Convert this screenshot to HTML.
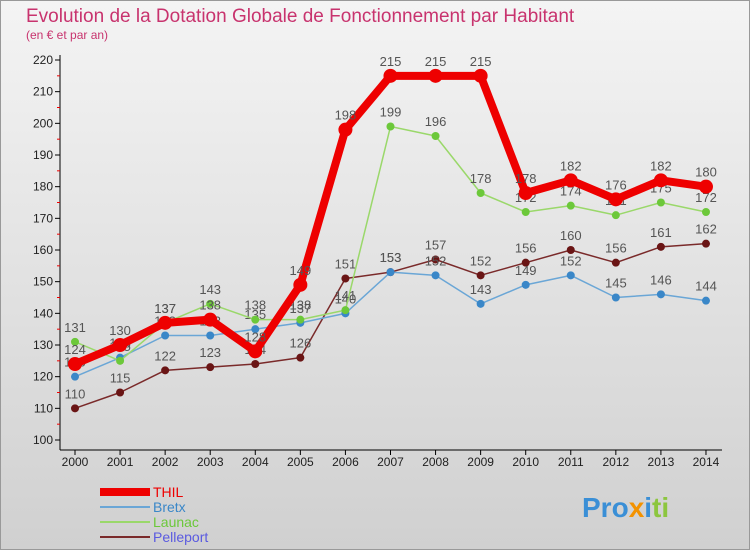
<!DOCTYPE html>
<html><head><meta charset="utf-8"><style>
body{margin:0;}
svg{display:block;font-family:"Liberation Sans",sans-serif;}
</style></head><body>
<svg id="c" width="750" height="550">
<defs><linearGradient id="bg" x1="0" y1="0" x2="0" y2="1"><stop offset="0" stop-color="#f4f4f4"/><stop offset="1" stop-color="#d0d0d0"/></linearGradient></defs>
<rect x="0.5" y="0.5" width="749" height="549" fill="url(#bg)" stroke="#999"/>
<text x="26" y="22" font-size="19" fill="#c8336e">Evolution de la Dotation Globale de Fonctionnement par Habitant</text>
<text x="26" y="39" font-size="12" fill="#c8336e">(en € et par an)</text>
<g id="axes"></g><g id="series"></g><g id="legend"></g>
<text x="582" y="517" font-size="28" font-weight="bold" fill="#3a8fd6">Pro<tspan fill="#f39200">x</tspan><tspan fill="#3a8fd6">i</tspan><tspan fill="#8cc63f">ti</tspan></text>
</svg>
<script>
const years=[2000,2001,2002,2003,2004,2005,2006,2007,2008,2009,2010,2011,2012,2013,2014];
const yTicks=[100,110,120,130,140,150,160,170,180,190,200,210,220];
const thil=[124,130,137,138,128,149,198,215,215,215,178,182,176,182,180];
const bretx=[120,126,133,133,135,137,140,153,152,143,149,152,145,146,144];
const launac=[131,125,137,143,138,138,141,199,196,178,172,174,171,175,172];
const pelleport=[110,115,122,123,124,126,151,153,157,152,156,160,156,161,162];
const NS='http://www.w3.org/2000/svg';
const X=i=>75+i*45.07, Y=v=>440-(v-100)*380/120;
function mk(t,a,p){const e=document.createElementNS(NS,t);for(const k in a)e.setAttribute(k,a[k]);p.appendChild(e);return e;}
const ax=document.getElementById('axes');
mk('line',{x1:60,y1:55,x2:60,y2:450,stroke:'#000'},ax);
mk('line',{x1:60,y1:450,x2:722,y2:450,stroke:'#000'},ax);
yTicks.forEach(v=>{
 const t=mk('line',{x1:55,y1:Y(v),x2:60,y2:Y(v),stroke:'#000'},ax);
 
 if(v<220){mk('line',{x1:57,y1:Y(v+5),x2:60,y2:Y(v+5),stroke:'#e00'},ax);}
 const l=mk('text',{x:53,y:Y(v)+4,'font-size':12,'text-anchor':'end',fill:'#222'},ax);l.textContent=v;
 
});
years.forEach((y,i)=>{
 mk('line',{x1:X(i),y1:450,x2:X(i),y2:455,stroke:'#000'},ax);
 const l=mk('text',{x:X(i),y:466,'font-size':12,'text-anchor':'middle',fill:'#222'},ax);l.textContent=y;
 
});
const sg=document.getElementById('series');
const defs=[['thil',thil,'#ee0000','#ee0000',8,7,'THIL'],['bretx',bretx,'#6aa6d6','#3a87c8',1.5,4,'Bretx'],['launac',launac,'#9ad86a','#6cc83a',1.5,4,'Launac'],['pelleport',pelleport,'#7a2a2a','#6a1515',1.5,4,'Pelleport']];
[defs[3],defs[1],defs[2],defs[0]].forEach(([n,d,c,dc,w,r])=>{
 const g=mk('g',{},sg);
 const p=mk('polyline',{points:d.map((v,i)=>X(i)+','+Y(v)).join(' '),fill:'none',stroke:c,'stroke-width':w,'stroke-linejoin':'round'},g);
 
 d.forEach((v,i)=>{
  const pt=mk('circle',{cx:X(i),cy:Y(v),r:r,fill:dc},g);
  
  const t=mk('text',{x:X(i),y:Y(v)-10,'font-size':13,'text-anchor':'middle',fill:'#555'},g);t.textContent=v;
  
 });
});
const lg=document.getElementById('legend');
defs.forEach(([n,d,c,dc,w],k)=>{
 const y=492+k*15;
 const g=mk('g',{},lg);
 mk('line',{x1:100,y1:y,x2:150,y2:y,stroke:c,'stroke-width':k?2:8},g);
 const t=mk('text',{x:153,y:y+5,'font-size':14,fill:k===0?'#ee0000':(k===1?'#3a87c8':(k===2?'#6cc83a':'#5a5ae0'))},g);t.textContent=defs[k][6];
});
</script>
</body></html>
